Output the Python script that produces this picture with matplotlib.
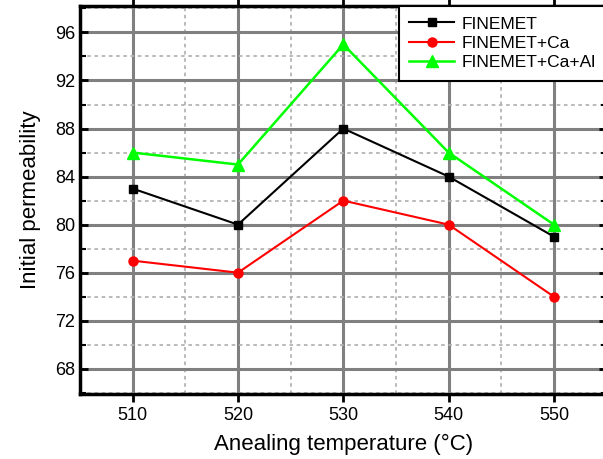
import matplotlib
matplotlib.use("Agg")
import matplotlib.pyplot as plt
from matplotlib.ticker import MultipleLocator

plt.rcParams['font.family'] = ['Liberation Sans', 'DejaVu Sans']

temps = [510, 520, 530, 540, 550]
finemet = [83, 80, 88, 84, 79]
finemet_ca = [77, 76, 82, 80, 74]
finemet_ca_al = [86, 85, 95, 86, 80]

fig = plt.figure(figsize=(6.03, 4.59), dpi=100)
ax = fig.add_axes([80/603, 1-394/459, (606.6-80)/603, (394-6)/459])

ax.plot(temps, finemet, color='black', marker='s', markersize=6, lw=1.5, label='FINEMET')
ax.plot(temps, finemet_ca, color='red', marker='o', markersize=6.5, lw=1.5, label='FINEMET+Ca')
ax.plot(temps, finemet_ca_al, color='#00ff00', marker='^', markersize=8, lw=1.8, label='FINEMET+Ca+Al')

ax.set_xlim(505, 555)
ax.set_ylim(65.9, 98.2)
ax.xaxis.set_major_locator(MultipleLocator(10))
ax.xaxis.set_minor_locator(MultipleLocator(5))
ax.yaxis.set_major_locator(MultipleLocator(4))
ax.yaxis.set_minor_locator(MultipleLocator(2))

ax.grid(which='major', color='#808080', lw=2.2, zorder=0)
ax.grid(which='minor', color='#b4b4b4', lw=1.3, ls=(0, (2, 2)), zorder=0)
ax.set_axisbelow(True)

for s in ax.spines.values():
    s.set_linewidth(2.5)
ax.tick_params(which='both', left=True, right=True, top=True, bottom=True,
               direction='in', labelsize=13)
ax.tick_params(axis='x', which='major', direction='out', length=6, width=2)
ax.tick_params(axis='x', which='minor', bottom=False, top=False)
ax.tick_params(axis='y', which='major', length=6, width=2)
ax.tick_params(axis='y', which='minor', length=4, width=1.5)

ax.set_xlabel('Anealing temperature (\u00b0C)', fontsize=16, labelpad=7)
ax.set_ylabel('Initial permeability', fontsize=16, labelpad=10)

leg = ax.legend(loc='upper right', fontsize=12.5, fancybox=False, framealpha=1,
                edgecolor='black', borderaxespad=0, handlelength=2.6,
                handletextpad=0.45, labelspacing=0.24, borderpad=0.6)
leg.get_frame().set_linewidth(1.5)

fig.savefig('out.png', dpi=100)
